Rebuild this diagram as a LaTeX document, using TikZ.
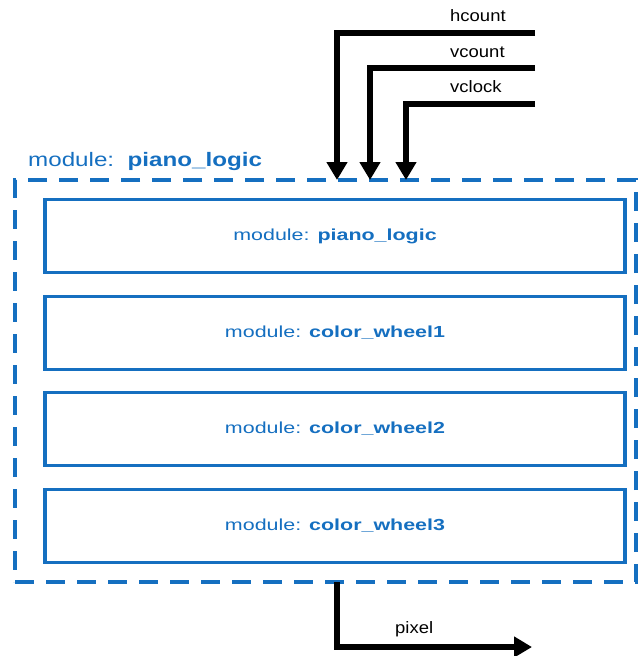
\documentclass[tikz,border=0pt]{standalone}
\usepackage{fontspec}
\setmainfont{Liberation Sans}
\usepackage{graphicx}
\usetikzlibrary{arrows.meta}
\definecolor{modblue}{RGB}{21,111,192}
% horizontally widened text
\newcommand{\hstretch}[2]{\scalebox{#1}[1]{#2}}
\begin{document}
\begin{tikzpicture}[x=1pt,y=-1pt,
  modbox/.style={draw=modblue, line width=3.5pt, minimum width=580pt,
    minimum height=73pt, inner sep=0pt, text=modblue,
    font=\fontsize{16}{19}\selectfont},
  wrapper/.style={draw=modblue, line width=4pt, dash pattern=on 19pt off 12pt,
    minimum width=621pt, minimum height=402pt, inner sep=0pt},
  sig/.style={line width=6pt, -{Triangle[width=20pt,length=18pt]}},
  siglabel/.style={font=\fontsize{16.5}{19}\selectfont, inner sep=0pt,
    anchor=base west}]
\useasboundingbox (0,0) rectangle (644,656);

% enclosing module
\node[wrapper] (outer) at (325.5,381) {};
\node[anchor=base west, inner sep=0pt, text=modblue,
  font=\fontsize{19.5}{23}\selectfont] (title) at (28,166)
  {\hstretch{1.24}{module:\ \ \textbf{piano\_logic}}};

% sub-modules
\node[modbox] (piano) at (335,236) {\hstretch{1.34}{module: \textbf{piano\_logic}}};
\node[modbox] (cw1) at (335,333) {\hstretch{1.34}{module: \textbf{color\_wheel1}}};
\node[modbox] (cw2) at (335,429) {\hstretch{1.34}{module: \textbf{color\_wheel2}}};
\node[modbox] (cw3) at (335,526) {\hstretch{1.34}{module: \textbf{color\_wheel3}}};

% input signals
\coordinate (hcS) at (535,33);
\coordinate (vcS) at (535,68);
\coordinate (vkS) at (535,104);
\coordinate (hcIn) at (337,180);
\coordinate (vcIn) at (370,180);
\coordinate (vkIn) at (406,180);
\draw[sig] (hcS) -| (hcIn);
\draw[sig] (vcS) -| (vcIn);
\draw[sig] (vkS) -| (vkIn);
\node[siglabel] (hcL) at (450,21) {\hstretch{1.12}{hcount}};
\node[siglabel] (vcL) at (450,57) {\hstretch{1.12}{vcount}};
\node[siglabel] (vkL) at (450,92) {\hstretch{1.12}{vclock}};

% output signal
\coordinate (pxOut) at (337,582);
\coordinate (pxEnd) at (532,647);
\draw[sig] (pxOut) |- (pxEnd);
\node[siglabel] (pxL) at (395,633) {\hstretch{1.12}{pixel}};
\end{tikzpicture}
\end{document}
